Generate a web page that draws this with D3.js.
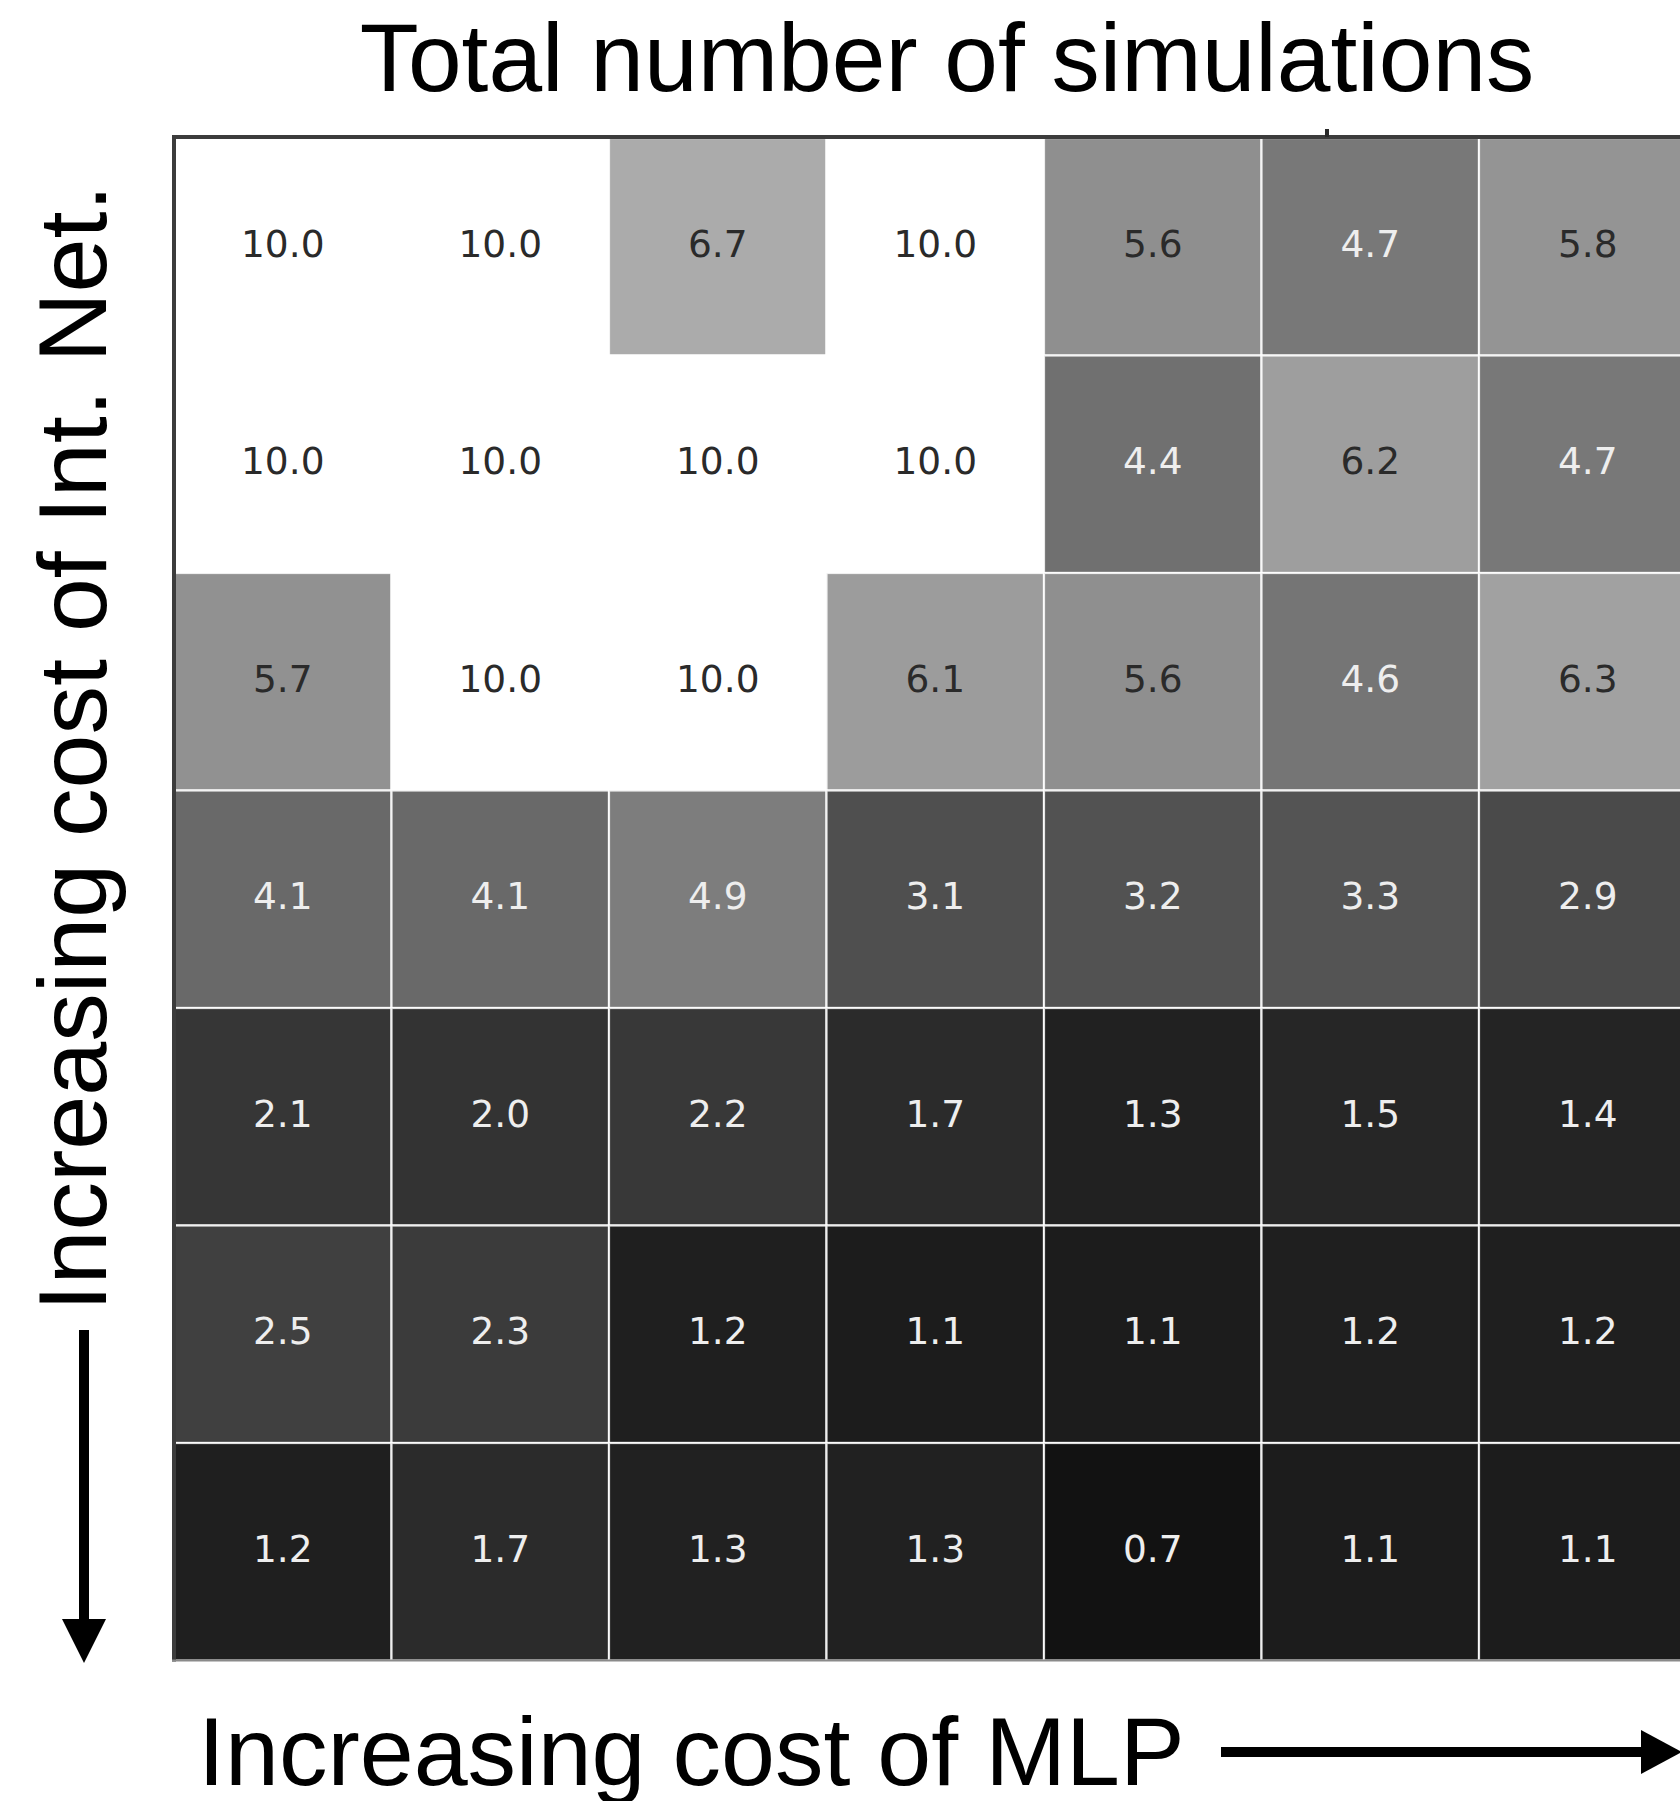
<!DOCTYPE html>
<html>
<head>
<meta charset="utf-8">
<script src="https://cdn.jsdelivr.net/npm/d3@7"></script>
<style>
  html, body { margin: 0; padding: 0; background: #fff; }
  svg { display: block; }
</style>
</head>
<body>
<svg id="chart" width="1680" height="1801"></svg>
<script>
// Columns: increasing cost of the MLP; rows: increasing cost of the interaction network
const mlpCost = ["c1", "c2", "c3", "c4", "c5", "c6", "c7"];
const intNetCost = ["r1", "r2", "r3", "r4", "r5", "r6", "r7"];

// Total number of simulations for each cost pair (one array per row, top to bottom)
const row1 = [10.0, 10.0, 6.7, 10.0, 5.6, 4.7, 5.8];
const row2 = [10.0, 10.0, 10.0, 10.0, 4.4, 6.2, 4.7];
const row3 = [5.7, 10.0, 10.0, 6.1, 5.6, 4.6, 6.3];
const row4 = [4.1, 4.1, 4.9, 3.1, 3.2, 3.3, 2.9];
const row5 = [2.1, 2.0, 2.2, 1.7, 1.3, 1.5, 1.4];
const row6 = [2.5, 2.3, 1.2, 1.1, 1.1, 1.2, 1.2];
const row7 = [1.2, 1.7, 1.3, 1.3, 0.7, 1.1, 1.1];
const rows = [row1, row2, row3, row4, row5, row6, row7];

const titleText = "Total number of simulations";
const xLabelText = "Increasing cost of MLP";
const yLabelText = "Increasing cost of Int. Net.";

const svg = d3.select("#chart");

const gridLeft = 174, gridTop = 138, cellSize = 217.5;

const x = d3.scaleBand().domain(mlpCost).range([gridLeft, gridLeft + cellSize * mlpCost.length]);
const y = d3.scaleBand().domain(intNetCost).range([gridTop, gridTop + cellSize * intNetCost.length]);
const color = d3.scaleLinear().domain([0, 10]).range(["#000000", "#ffffff"]).clamp(true);

const cells = [];
rows.forEach((r, i) => r.forEach((v, j) => cells.push({ row: intNetCost[i], col: mlpCost[j], value: v })));

const g = svg.append("g");

g.selectAll("rect.cell")
  .data(cells)
  .join("rect")
  .attr("class", "cell")
  .attr("x", d => x(d.col))
  .attr("y", d => y(d.row))
  .attr("width", x.bandwidth())
  .attr("height", y.bandwidth())
  .attr("fill", d => color(d.value))
  .attr("stroke", "#ffffff")
  .attr("stroke-opacity", 0.85)
  .attr("stroke-width", 2.2);

g.selectAll("text.val")
  .data(cells)
  .join("text")
  .attr("class", "val")
  .attr("x", d => x(d.col) + x.bandwidth() / 2)
  .attr("y", d => y(d.row) + y.bandwidth() / 2 + 10)
  .attr("text-anchor", "middle")
  .attr("font-family", "DejaVu Sans")
  .attr("font-size", 37.5)
  .attr("fill", d => d.value > 5 ? "#2a2a2a" : "#eeeeee")
  .text(d => d3.format(".1f")(d.value));

// Frame around the heatmap
const x0 = x.range()[0], y0 = y.range()[0], y1 = y.range()[1];
svg.append("line").attr("x1", x0 - 2).attr("x2", 1680).attr("y1", y0 - 1).attr("y2", y0 - 1)
  .attr("stroke", "#3c3c3c").attr("stroke-width", 4);
svg.append("line").attr("x1", x0).attr("x2", x0).attr("y1", y0 - 3).attr("y2", y1 + 1)
  .attr("stroke", "#3c3c3c").attr("stroke-width", 4);
svg.append("line").attr("x1", x0 - 2).attr("x2", 1680).attr("y1", y1).attr("y2", y1)
  .attr("stroke", "#8a8a8a").attr("stroke-width", 2);
// small tick on the top edge
svg.append("rect").attr("x", 1325).attr("y", y0 - 9).attr("width", 4).attr("height", 8).attr("fill", "#2a2a2a");

// Title
svg.append("text")
  .attr("x", 947).attr("y", 91)
  .attr("text-anchor", "middle")
  .attr("font-family", "Liberation Sans, Arial, Helvetica, sans-serif")
  .attr("font-size", 96.5)
  .attr("fill", "#000")
  .text(titleText);

// X axis label with arrow
svg.append("text")
  .attr("x", 198).attr("y", 1785)
  .attr("font-family", "Liberation Sans, Arial, Helvetica, sans-serif")
  .attr("font-size", 97)
  .attr("fill", "#000")
  .text(xLabelText);

svg.append("rect").attr("x", 1221).attr("y", 1747).attr("width", 424).attr("height", 10).attr("fill", "#000");
svg.append("path").attr("d", "M1641,1730 L1682,1752 L1641,1774 Z").attr("fill", "#000");

// Y axis label with arrow
svg.append("text")
  .attr("transform", "translate(106,748) rotate(-90)")
  .attr("text-anchor", "middle")
  .attr("font-family", "Liberation Sans, Arial, Helvetica, sans-serif")
  .attr("font-size", 97)
  .attr("fill", "#000")
  .text(yLabelText);

svg.append("rect").attr("x", 79).attr("y", 1330).attr("width", 10).attr("height", 292).attr("fill", "#000");
svg.append("path").attr("d", "M62,1619 L106,1619 L84,1663 Z").attr("fill", "#000");
</script>
</body>
</html>
